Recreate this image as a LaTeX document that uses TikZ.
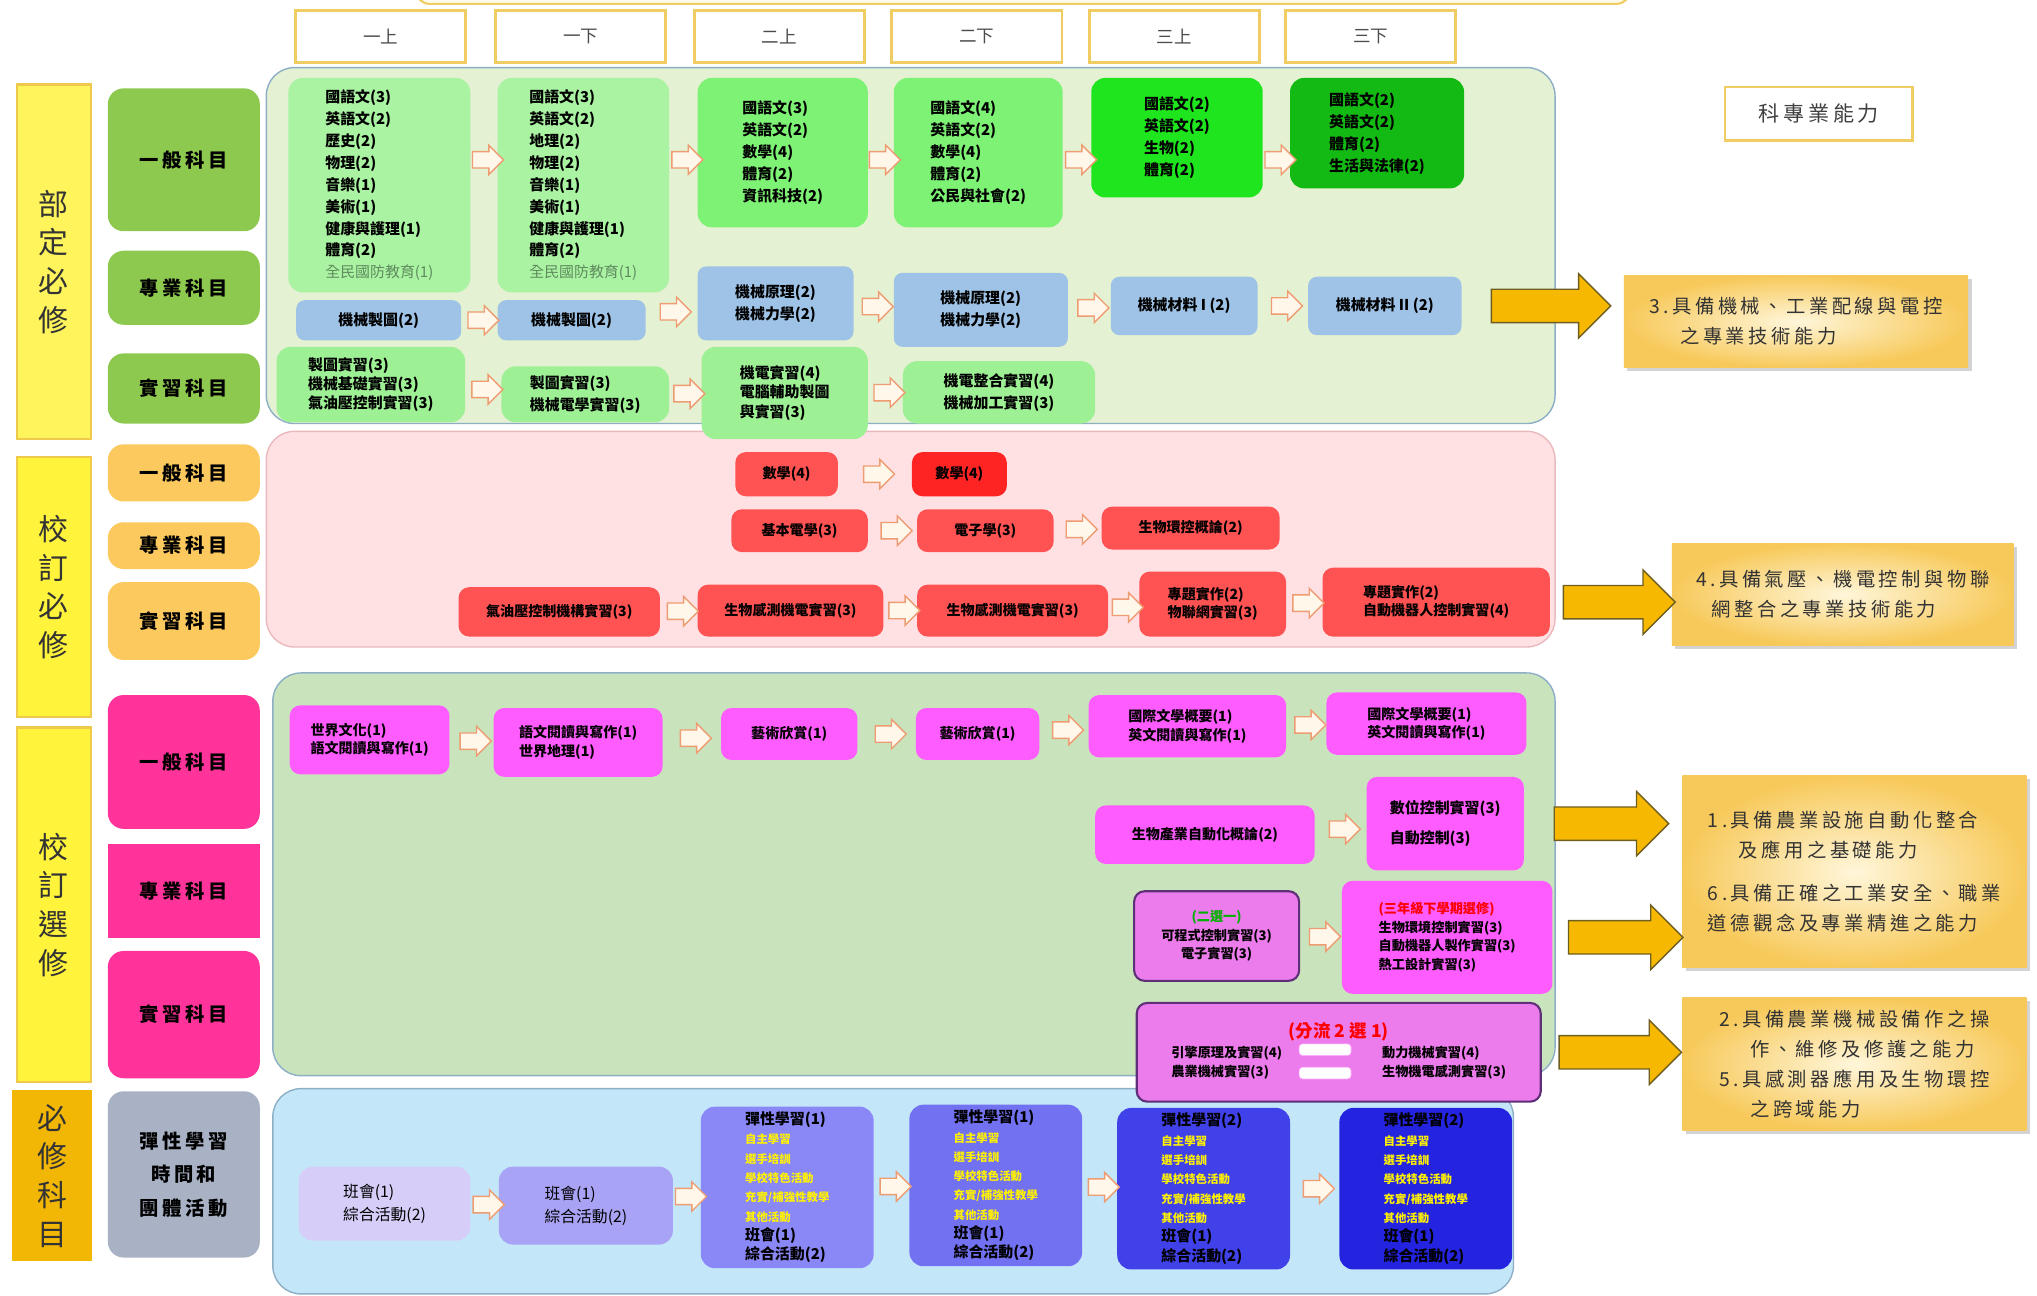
\documentclass[tikz,border=0pt]{standalone}
\usepackage{fontspec}
\setmainfont{Noto Sans CJK TC}
\newfontfamily\spc[LetterSpace=18]{Noto Sans CJK TC}
\usetikzlibrary{shapes.arrows,shadows}

\definecolor{ybar}{HTML}{FFF33B}
\definecolor{ybarl}{HTML}{FFF45C}
\definecolor{barline}{HTML}{EFC94C}
\definecolor{obar}{HTML}{F2B705}
\definecolor{catg}{HTML}{8DC84F}
\definecolor{cato}{HTML}{FBC95E}
\definecolor{catp}{HTML}{FF3399}
\definecolor{catgr}{HTML}{A8B2C4}
\definecolor{semline}{HTML}{F0CD62}
\definecolor{ltcream}{HTML}{FFFBEA}
\definecolor{pnlg}{HTML}{E4F1D2}
\definecolor{pnlr}{HTML}{FFE1E4}
\definecolor{pnlrl}{HTML}{E9B9BD}
\definecolor{pnlg2}{HTML}{C9E3BC}
\definecolor{pnlb}{HTML}{C4E6F9}
\definecolor{pnlline}{HTML}{8DAFC6}
\definecolor{grn1}{HTML}{AAF3A2}
\definecolor{grn2}{HTML}{7EF275}
\definecolor{grn3}{HTML}{1FE51F}
\definecolor{grn4}{HTML}{14BA14}
\definecolor{blu}{HTML}{9EC3E6}
\definecolor{grns}{HTML}{9EF095}
\definecolor{red1}{HTML}{FF5252}
\definecolor{red2}{HTML}{FF2424}
\definecolor{mag}{HTML}{FF5CFF}
\definecolor{mag2}{HTML}{EC7BEC}
\definecolor{magline}{HTML}{5E2F78}
\definecolor{vio1}{HTML}{D6CEF8}
\definecolor{vio2}{HTML}{A9A3F5}
\definecolor{vio3}{HTML}{8A87F7}
\definecolor{vio4}{HTML}{7271F2}
\definecolor{vio5}{HTML}{4141EA}
\definecolor{vio6}{HTML}{2424E0}
\definecolor{arrline}{HTML}{EE9C72}
\definecolor{arrfill}{HTML}{FFF7EA}
\definecolor{bigfill}{HTML}{F6B800}
\definecolor{bigline}{HTML}{6E5E20}
\definecolor{goalin}{HTML}{FFF6DA}
\definecolor{goalout}{HTML}{F7C95A}
\definecolor{defgray}{HTML}{5E8A5E}

\begin{document}
\begin{tikzpicture}
  [x=0.026cm, y=-0.026cm,
   sz/.style 2 args={minimum width=#1*0.026cm, minimum height=#2*0.026cm},
   panel/.style={rounded corners=16pt, line width=0.8pt, inner sep=0pt},
   bar/.style={draw=barline, line width=1.2pt, inner sep=0pt, align=center, font=\fontsize{17}{22}\selectfont, text=black!80},
   cat/.style={rounded corners=9pt, inner sep=0pt, align=center, font=\spc\fontsize{11}{16}\selectfont\bfseries},
   sem/.style={draw=semline, line width=1.6pt, fill=white, inner sep=0pt, font=\fontsize{10}{12}\selectfont, text=black!70},
   box/.style={rounded corners=8pt, inner sep=3pt, align=left, font=\fontsize{8.5}{12.5}\selectfont\bfseries},
   sbox/.style={box, rounded corners=6pt, font=\fontsize{8}{10.5}\selectfont\bfseries},
   vbox/.style={box, font=\fontsize{8.5}{11}\selectfont\bfseries},
   harrow/.style={single arrow, draw=arrline, fill=arrfill, line width=0.8pt, inner xsep=0pt, inner ysep=0.15cm,
     minimum height=0.62cm, single arrow head extend=0.13cm},
   bigarrow/.style={single arrow, draw=bigline, fill=bigfill, line width=0.8pt, inner xsep=0pt, inner ysep=0.32cm,
     single arrow head extend=0.31cm},
   goal/.style={inner sep=0pt, inner color=goalin, outer color=goalout,
     drop shadow={shadow xshift=2pt, shadow yshift=-2pt, opacity=.35},
     align=left, font=\spc\fontsize{11}{17}\selectfont, text=black!80},
   wbar/.style={fill=white, draw=mag!50!white, rounded corners=2pt, inner sep=0pt}]
  \useasboundingbox (0,0) rectangle (1568,997);

  % top frame, cut by the page edge
  \draw[draw=semline, fill=ltcream, line width=1.2pt, rounded corners=8pt] (320,-30) rectangle (1255,3);

  % semesters
  \foreach \n/\x/\t in {1/293/一上,2/447/一下,3/600/二上,4/752/二下,5/904/三上,6/1055/三下}
    \node[sem, sz={131}{40}] (sem\n) at (\x,28) {\t};

  % left bars
  \node[bar, fill=ybarl, sz={57}{273}] (bd) at (41.5,201.5) {部\\定\\必\\修};
  \node[bar, fill=ybar, sz={57}{200}] (xd) at (41.5,452) {校\\訂\\必\\修};
  \node[bar, fill=ybar, sz={57}{273}] (xx) at (41.5,696.5) {校\\訂\\選\\修};
  \node[bar, fill=obar, draw=obar, sz={60}{130}] (bx) at (40,905) {必\\修\\科\\目};

  % categories
  \node[cat, fill=catg, sz={117}{110}] (c1) at (141.5,123) {一般科目};
  \node[cat, fill=catg, sz={117}{57}] (c2) at (141.5,221.5) {專業科目};
  \node[cat, fill=catg, sz={117}{54}] (c3) at (141.5,299) {實習科目};
  \node[cat, fill=cato, sz={117}{44}] (c4) at (141.5,364) {一般科目};
  \node[cat, fill=cato, sz={117}{36}] (c5) at (141.5,420) {專業科目};
  \node[cat, fill=cato, sz={117}{60}] (c6) at (141.5,478) {實習科目};
  \node[cat, fill=catp, sz={117}{103}] (c7) at (141.5,586.5) {一般科目};
  \node[cat, fill=catp, rounded corners=0pt, sz={117}{72}] (c8) at (141.5,686) {專業科目};
  \node[cat, fill=catp, sz={117}{98}] (c9) at (141.5,781) {實習科目};
  \node[cat, fill=catgr, sz={117}{128}, font=\spc\fontsize{11}{19}\selectfont\bfseries] (c10) at (141.5,904) {彈性學習\\時間和\\團體活動};

  % panels
  \node[panel, fill=pnlg, draw=pnlline, sz={992}{274}] (pnl1) at (701,189) {};
  \node[panel, fill=pnlr, draw=pnlrl, sz={992}{166}] (pnl2) at (701,415) {};
  \node[panel, fill=pnlg2, draw=pnlline, sz={987}{310}] (pnl3) at (703.5,673) {};
  \node[panel, fill=pnlb, draw=pnlline, sz={955}{158}] (pnl4) at (687.5,917) {};

  % required (ministry)
  \node[box, fill=grn1, sz={140}{165}] (g1) at (292,142.5)
    {國語文(3)\\英語文(2)\\歷史(2)\\物理(2)\\音樂(1)\\美術(1)\\健康與護理(1)\\體育(2)\\{\mdseries\color{defgray}全民國防教育(1)}};
  \node[box, fill=grn1, sz={132}{165}] (g2) at (449,142.5)
    {國語文(3)\\英語文(2)\\地理(2)\\物理(2)\\音樂(1)\\美術(1)\\健康與護理(1)\\體育(2)\\{\mdseries\color{defgray}全民國防教育(1)}};
  \node[box, fill=grn2, sz={131}{115}] (g3) at (602.5,117.5) {國語文(3)\\英語文(2)\\數學(4)\\體育(2)\\資訊科技(2)};
  \node[box, fill=grn2, sz={130}{115}] (g4) at (753,117.5) {國語文(4)\\英語文(2)\\數學(4)\\體育(2)\\公民與社會(2)};
  \node[box, fill=grn3, sz={132}{92}] (g5) at (906,106) {國語文(2)\\英語文(2)\\生物(2)\\體育(2)};
  \node[box, fill=grn4, sz={134}{85}] (g6) at (1060,102.5) {國語文(2)\\英語文(2)\\體育(2)\\生活與法律(2)};

  \node[box, fill=blu, rounded corners=5pt, sz={127}{31}] (p1) at (291.5,246.5) {機械製圖(2)};
  \node[box, fill=blu, rounded corners=5pt, sz={114}{31}] (p2) at (440,246.5) {機械製圖(2)};
  \node[box, fill=blu, rounded corners=5pt, sz={120}{57}] (p3) at (597,233.5) {機械原理(2)\\機械力學(2)};
  \node[box, fill=blu, rounded corners=5pt, sz={134}{57}] (p4) at (755,238.5) {機械原理(2)\\機械力學(2)};
  \node[box, fill=blu, rounded corners=5pt, sz={113}{45}] (p5) at (911.5,235.5) {機械材料 I (2)};
  \node[box, fill=blu, rounded corners=5pt, sz={118}{45}] (p6) at (1066,235.5) {機械材料 II (2)};

  \node[box, fill=grns, sz={145}{58}, font=\fontsize{8.5}{11}\selectfont\bfseries] (s1) at (285.5,296) {製圖實習(3)\\機械基礎實習(3)\\氣油壓控制實習(3)};
  \node[box, fill=grns, sz={129}{43}] (s2) at (450.5,303.5) {製圖實習(3)\\機械電學實習(3)};
  \node[box, fill=grns, sz={128}{71}, font=\fontsize{8.5}{11}\selectfont\bfseries] (s3) at (604,302.5) {機電實習(4)\\電腦輔助製圖\\與實習(3)};
  \node[box, fill=grns, sz={148}{48}] (s4) at (769,302) {機電整合實習(4)\\機械加工實習(3)};

  % required (school)
  \node[sbox, fill=red1, sz={79}{34}] (r1) at (605.5,365) {數學(4)};
  \node[sbox, fill=red2, sz={73}{34}] (r2) at (738.5,365) {數學(4)};
  \node[sbox, fill=red1, sz={105}{33}] (r3) at (615.5,408.5) {基本電學(3)};
  \node[sbox, fill=red1, sz={105}{33}] (r4) at (758.5,408.5) {電子學(3)};
  \node[sbox, fill=red1, sz={137}{33}] (r5) at (916.5,406.5) {生物環控概論(2)};
  \node[sbox, fill=red1, sz={155}{38}] (r6) at (430.5,471) {氣油壓控制機構實習(3)};
  \node[sbox, fill=red1, sz={143}{40}] (r7) at (608.5,470) {生物感測機電實習(3)};
  \node[sbox, fill=red1, sz={147}{40}] (r8) at (779.5,470) {生物感測機電實習(3)};
  \node[sbox, fill=red1, sz={113}{50}] (r9) at (933.5,465) {專題實作(2)\\物聯網實習(3)};
  \node[sbox, fill=red1, sz={175}{53}] (r10) at (1105.5,463.5) {專題實作(2)\\自動機器人控制實習(4)};

  % electives (school)
  \node[sbox, fill=mag, sz={123}{53}] (e1) at (284.5,569.5) {世界文化(1)\\語文閱讀與寫作(1)};
  \node[sbox, fill=mag, sz={130}{53}] (e2) at (445,571.5) {語文閱讀與寫作(1)\\世界地理(1)};
  \node[sbox, fill=mag, sz={105}{40}] (e3) at (607.5,565) {藝術欣賞(1)};
  \node[sbox, fill=mag, sz={95}{40}] (e4) at (752.5,565) {藝術欣賞(1)};
  \node[sbox, fill=mag, sz={152}{48}] (e5) at (914,559) {國際文學概要(1)\\英文閱讀與寫作(1)};
  \node[sbox, fill=mag, sz={154}{48}] (e6) at (1098,557) {國際文學概要(1)\\英文閱讀與寫作(1)};
  \node[sbox, fill=mag, sz={169}{45}] (e7) at (927.5,642.5) {生物產業自動化概論(2)};
  \node[sbox, fill=mag, sz={121}{72}, font=\fontsize{8.5}{17}\selectfont\bfseries] (e8) at (1112.5,634) {數位控制實習(3)\\自動控制(3)};
  \node[sbox, fill=mag2, draw=magline, line width=1.2pt, align=center, sz={127}{69}, font=\fontsize{7.5}{10.5}\selectfont\bfseries] (e9) at (936.5,720.5)
    {{\color{green!70!black}(二選一)}\\可程式控制實習(3)\\電子實習(3)};
  \node[sbox, fill=mag, sz={162}{87}, font=\fontsize{7.5}{10.5}\selectfont\bfseries] (e10) at (1114,721.5)
    {{\color{red}(三年級下學期選修)}\\生物環境控制實習(3)\\自動機器人製作實習(3)\\熱工設計實習(3)};
  \node[sbox, fill=mag2, draw=magline, line width=1.2pt, align=center, sz={311}{76}, font=\fontsize{7.5}{10.5}\selectfont\bfseries] (e11) at (1030.5,810)
    {{\color{red}\fontsize{10}{12}\selectfont(分流 2 選 1)}\\[1pt]
     \begin{tabular}{@{}l@{\hspace{2cm}}l@{}}引擎原理及實習(4) & 動力機械實習(4)\\ 農業機械實習(3) & 生物機電感測實習(3)\end{tabular}};
  \node[wbar, sz={40}{9}] (eq1) at (1020,808) {};
  \node[wbar, sz={40}{9}] (eq2) at (1020,826) {};

  % flexible learning and activities
  \node[vbox, fill=vio1, sz={132}{57}, font=\fontsize{9}{13}\selectfont] (b1) at (296,926.5) {班會(1)\\綜合活動(2)};
  \node[vbox, fill=vio2, sz={134}{60}, font=\fontsize{9}{13}\selectfont] (b2) at (451,928) {班會(1)\\綜合活動(2)};
  \foreach \n/\x/\y/\c/\h in {3/606/914/vio3/1, 4/766.5/912.5/vio4/1, 5/926.5/915/vio5/2, 6/1097.5/915/vio6/2}
    \node[vbox, fill=\c, sz={133}{124}] (b\n) at (\x,\y)
      {彈性學習(\h)\\{\color{yellow}\fontsize{6.5}{11}\selectfont 自主學習}\\{\color{yellow}\fontsize{6.5}{11}\selectfont 選手培訓}\\{\color{yellow}\fontsize{6.5}{11}\selectfont 學校特色活動}\\{\color{yellow}\fontsize{6.5}{11}\selectfont 充實/補強性教學}\\{\color{yellow}\fontsize{6.5}{11}\selectfont 其他活動}\\班會(1)\\綜合活動(2)};

  % abilities
  \node[draw=semline, line width=1.4pt, fill=white, sz={144}{41}, font=\spc\fontsize{12}{14}\selectfont, text=black!75] (ttl) at (1400,87.5) {科專業能力};
  \node[goal, sz={265}{71}] (o3) at (1382.5,247.5) {3.具備機械、工業配線與電控\\\hspace*{1.6em}之專業技術能力};
  \node[goal, sz={263}{79}] (o4) at (1418.5,457.5) {4.具備氣壓、機電控制與物聯\\\hspace*{0.8em}網整合之專業技術能力};
  \node[goal, sz={265}{148}] (o1) at (1427.5,671) {1.具備農業設施自動化整合\\\hspace*{1.6em}及應用之基礎能力\\[8pt]6.具備正確之工業安全、職業\\道德觀念及專業精進之能力};
  \node[goal, sz={265}{102}] (o2) at (1427.5,819) {2.具備農業機械設備作之操\\\hspace*{1.6em}作、維修及修護之能力\\5.具感測器應用及生物環控\\\hspace*{1.6em}之跨域能力};

  % hollow arrows
  \foreach \from/\to in {g1/g2,g2/g3,g3/g4,g4/g5,g5/g6}
    \path (\from.east |- c1) -- node[harrow] {} (\to.west |- c1);
  \foreach \from/\to in {p1/p2,p2/p3,p3/p4,p4/p5,p5/p6,s1/s2,s2/s3,s3/s4,r1/r2,r3/r4,r4/r5,r6/r7,r7/r8,r8/r9,r9/r10,e1/e2,e2/e3,e3/e4,e4/e5,e5/e6,e7/e8,e9/e10,b1/b2,b2/b3,b3/b4,b4/b5,b5/b6}
    \path (\from.east) -- node[harrow] {} (\to.west);

  % big arrows
  \path (p6.east) -- node[bigarrow, minimum height=2.39cm] {} (o3.west |- p6);
  \path (r10.east) -- node[bigarrow, minimum height=2.24cm] {} (o4.west |- r10);
  \path (e8.east) -- node[bigarrow, minimum height=2.29cm] {} (o1.west |- e8);
  \path (e10.east) -- node[bigarrow, minimum height=2.29cm] {} (o1.west |- e10);
  \path (e11.east) -- node[bigarrow, minimum height=2.45cm] {} (o2.west |- e11);
\end{tikzpicture}
\end{document}
